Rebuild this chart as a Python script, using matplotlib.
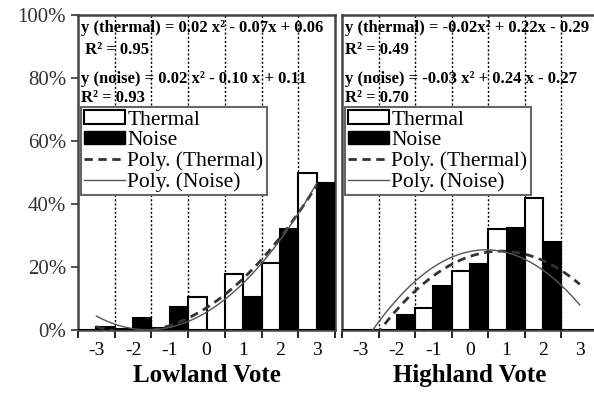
import numpy as np
import matplotlib.pyplot as plt
from matplotlib.patches import Patch
from matplotlib.lines import Line2D
from matplotlib.ticker import FixedLocator, PercentFormatter

plt.rcParams['font.family'] = ['Liberation Serif', 'DejaVu Serif']

votes = ['-3', '-2', '-1', '0', '1', '2', '3']

# share of responses per vote category (%)
low_thermal = [0.0, 0.3, 0.5, 10.5, 17.8, 21.3, 50.0]
low_noise = [1.0, 3.8, 7.3, 0.0, 10.5, 32.0, 46.7]
high_thermal = [0.0, 0.0, 7.0, 18.7, 32.0, 42.0, 0.0]
high_noise = [0.0, 4.8, 14.0, 21.0, 32.4, 28.0, 0.0]

low_eq = ['y (thermal) = 0.02 x² - 0.07x + 0.06', ' R² = 0.95',
          'y (noise) = 0.02 x² - 0.10 x + 0.11', 'R² = 0.93']
high_eq = ['y (thermal) = -0.02x² + 0.22x - 0.29', 'R² = 0.49',
           'y (noise) = -0.03 x² + 0.24 x - 0.27', 'R² = 0.70']


def panel(ax, thermal, noise, eqs, title, show_y):
    x = np.arange(len(votes))
    t = np.array(thermal) / 100
    n = np.array(noise) / 100
    ax.bar(x - 0.25, t, 0.5, color='white', edgecolor='black', linewidth=1.5, zorder=3)
    ax.bar(x + 0.25, n, 0.5, color='black', edgecolor='black', linewidth=1.5, zorder=3)

    # quadratic trendlines over category index 1..7
    xi = x + 1
    xs = np.linspace(1, 7, 200)
    pt = np.polyval(np.polyfit(xi, t, 2), xs)
    pn = np.polyval(np.polyfit(xi, n, 2), xs)
    ax.plot(xs - 1, pt, color='#333333', linestyle=(0, (3, 2)), linewidth=2, zorder=4)
    ax.plot(xs - 1, pn, color='#555555', linewidth=1, zorder=4)

    for b in np.arange(0.5, 6, 1):
        ax.axvline(b, color='black', linestyle=(0, (1.5, 1.5)), linewidth=1, zorder=1)

    ax.set_xlim(-0.5, 6.5)
    ax.set_ylim(0, 1)
    ax.set_xticks(x)
    ax.set_xticklabels(votes, fontsize=14)
    ax.xaxis.set_minor_locator(FixedLocator(np.arange(-0.5, 7, 1)))
    ax.tick_params(axis='x', which='major', length=0, pad=9)
    ax.tick_params(axis='x', which='minor', length=6, width=1.2, direction='out')
    ax.set_xlabel(title, fontsize=18, fontweight='bold', labelpad=3)
    if show_y:
        ax.set_yticks(np.arange(0, 1.01, 0.2))
        ax.yaxis.set_major_formatter(PercentFormatter(1, decimals=0))
        ax.tick_params(axis='y', labelsize=15, length=5, width=1.2, colors='#333333')
    else:
        ax.set_yticks([])
    for s in ax.spines.values():
        s.set_linewidth(1.8)
        s.set_color('#444444')

    ys = [0.959, 0.889, 0.797, 0.737]
    for txt, yy in zip(eqs, ys):
        ax.text(0.01, yy, txt, transform=ax.transAxes, fontsize=12,
                fontweight='bold', va='center', ha='left', zorder=5)

    handles = [Patch(facecolor='white', edgecolor='black', linewidth=1.5),
               Patch(facecolor='black', edgecolor='black'),
               Line2D([], [], color='#333333', linestyle=(0, (3, 2)), linewidth=2),
               Line2D([], [], color='#555555', linewidth=1)]
    labels = ['Thermal', 'Noise', 'Poly. (Thermal)', 'Poly. (Noise)']
    leg = ax.legend(handles, labels, loc='upper left', bbox_to_anchor=(0.012, 0.708),
                    fontsize=15.5, frameon=True, fancybox=False, framealpha=1,
                    edgecolor='#666666', handlelength=1.9, handleheight=0.6,
                    handletextpad=0.1, labelspacing=0.05, borderpad=0.15,
                    borderaxespad=0)
    leg.get_frame().set_linewidth(1.5)
    leg.set_zorder(6)


fig = plt.figure(figsize=(5.94, 3.96), dpi=100)
ax1 = fig.add_axes([0.1313, 0.1667, 0.4327, 0.7953])
ax2 = fig.add_axes([0.5758, 0.1667, 0.431, 0.7953])

panel(ax1, low_thermal, low_noise, low_eq, 'Lowland Vote', True)
panel(ax2, high_thermal, high_noise, high_eq, 'Highland Vote', False)

fig.savefig('out.png', dpi=100)
